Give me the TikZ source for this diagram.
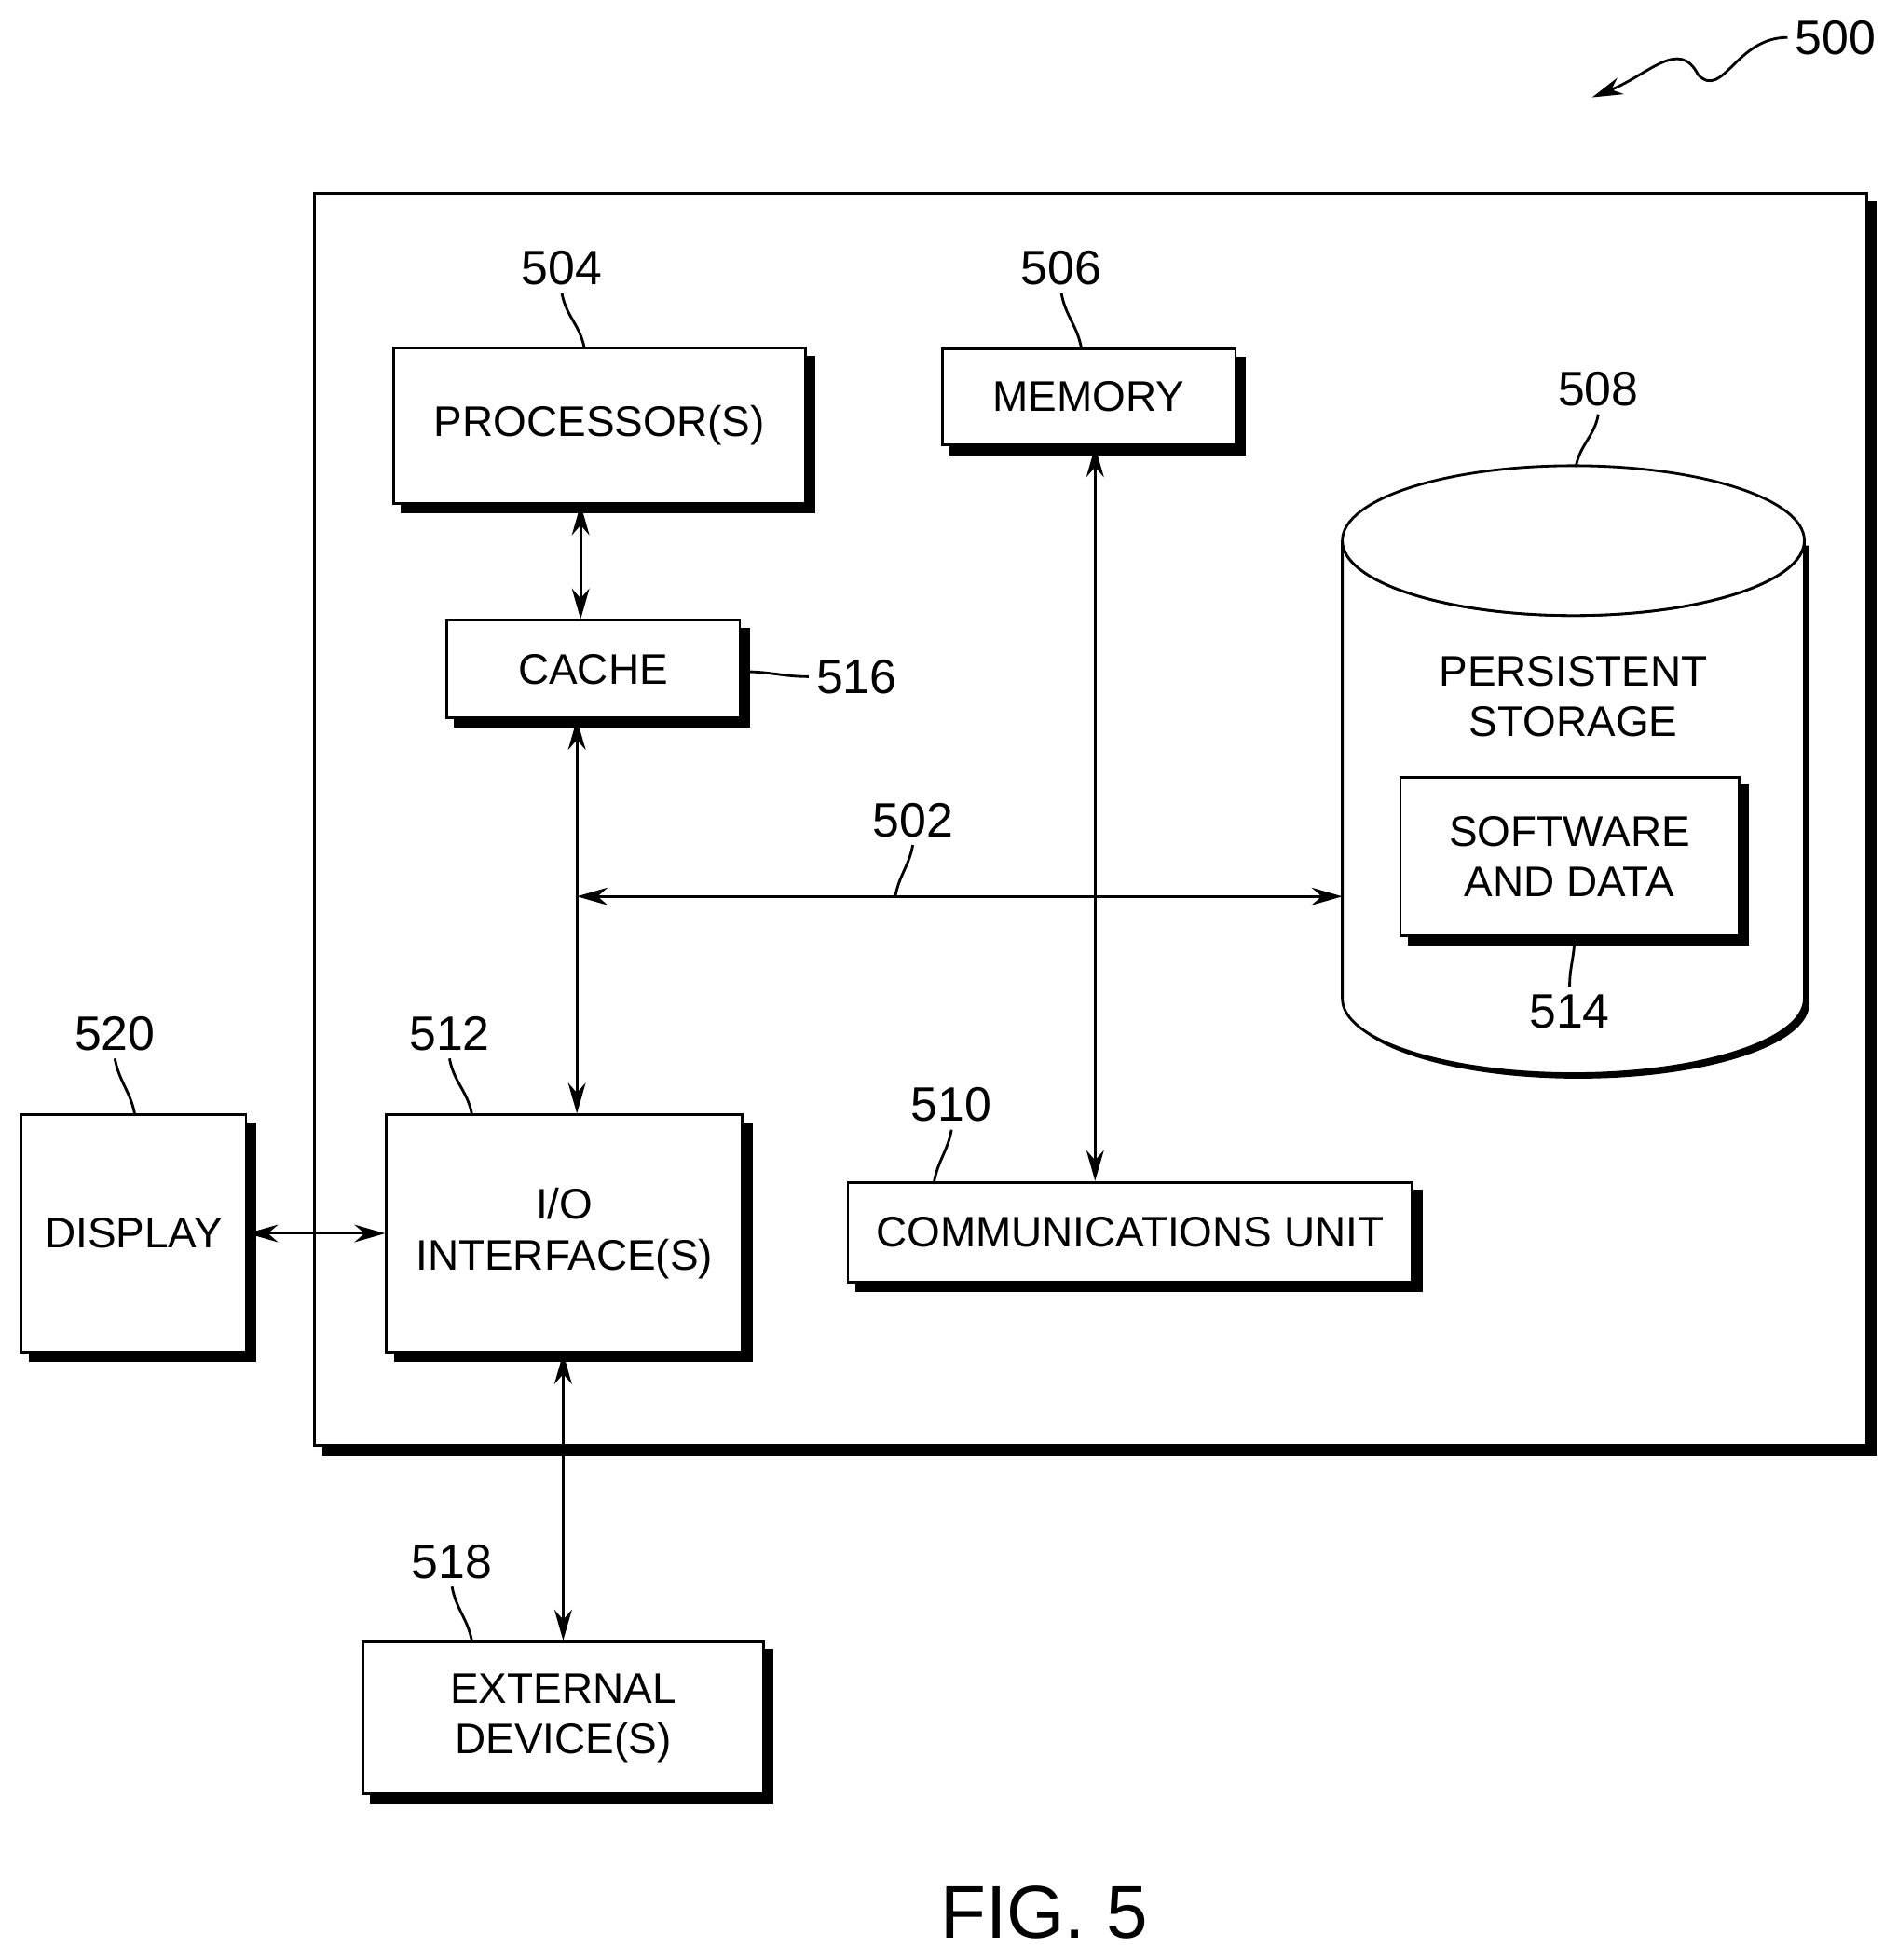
\documentclass[tikz,border=0pt]{standalone}
\usepackage{fontspec}
\setmainfont{Liberation Sans}
\usetikzlibrary{shadows,arrows.meta}
\tikzset{
  box/.style={draw=black, line width=1.2pt, fill=white, rectangle, align=center,
    copy shadow={shadow xshift=4pt, shadow yshift=-4pt, draw=black, fill=black}},
  arrow/.style={line width=1.2pt, {Stealth[length=14pt,width=8pt]}-{Stealth[length=14pt,width=8pt]}},
  leader/.style={line width=1.2pt},
  num/.style={font=\fontsize{22}{26}\selectfont}
}
\begin{document}
\begin{tikzpicture}[x=0.02cm, y=-0.02cm, font=\fontsize{19.5}{23}\selectfont]
\useasboundingbox (0,0) rectangle (1520,1570);

% outer system box
\node[box, minimum width=1243*0.02cm, minimum height=1003*0.02cm] (system) at (873.5,656.5) {};

% components
\node[box, minimum width=330*0.02cm, minimum height=124*0.02cm] (proc) at (480,341) {PROCESSOR(S)};
\node[box, minimum width=235*0.02cm, minimum height=77*0.02cm] (mem) at (872,318) {MEMORY};
\node[box, minimum width=235*0.02cm, minimum height=78*0.02cm] (cache) at (475,536) {CACHE};
\node[box, minimum width=285*0.02cm, minimum height=190*0.02cm] (io) at (452,988) {I/O\\INTERFACE(S)};
\node[box, minimum width=180*0.02cm, minimum height=190*0.02cm] (disp) at (107,988) {DISPLAY};
\node[box, minimum width=452*0.02cm, minimum height=80*0.02cm] (comm) at (905,987) {COMMUNICATIONS UNIT};
\node[box, minimum width=321*0.02cm, minimum height=122*0.02cm] (ext) at (451,1376) {EXTERNAL\\DEVICE(S)};

% persistent storage cylinder
\fill[black] (1079,437) -- (1079,804) arc[start angle=180, end angle=0, x radius=185, y radius=60] -- (1449,437) -- cycle;
\fill[white, draw=black, line width=1.2pt] (1075,433) -- (1075,800) arc[start angle=180, end angle=0, x radius=185, y radius=60] -- (1445,433) arc[start angle=0, end angle=180, x radius=185, y radius=60] -- cycle;
\draw[fill=white, line width=1.2pt] (1260,433) ellipse[x radius=185, y radius=60];
\coordinate (stor) at (1075,718);
\node[align=center] at (1260,558) {PERSISTENT\\STORAGE};
\node[box, minimum width=271*0.02cm, minimum height=127*0.02cm] (soft) at (1257,686) {SOFTWARE\\AND DATA};

% connectors
\coordinate (x465) at (465,0);
\coordinate (x462) at (462,0);
\coordinate (x877) at (877,0);
\coordinate (x451) at (451,0);
\draw[arrow] (x465 |- proc.south) -- (x465 |- cache.north);
\coordinate (bus) at (462,718);
\draw[arrow] (x462 |- cache.south) -- (x462 |- io.north);
\draw[arrow] (bus) -- (stor);
\draw[arrow] (x877 |- mem.south) -- (x877 |- comm.north);
\draw[arrow] (disp.east) -- (io.west);
\draw[arrow] (x451 |- io.south) -- (x451 |- ext.north);

% reference numerals
\node[num] (n504) at (450,215) {504};
\draw[leader] (n504.south) to[out=-80,in=100] (468,279);
\node[num] (n506) at (850,215) {506};
\draw[leader] (n506.south) to[out=-80,in=100] (866,279);
\node[num] (n508) at (1280,312) {508};
\draw[leader] (n508.south) to[out=-100,in=80] (1262,374);
\node[num] (n516) at (686,542) {516};
\draw[leader] (n516.west) to[out=180,in=0] (597,538);
\node[num] (n502) at (731,657) {502};
\draw[leader] (n502.south) to[out=-100,in=80] (717,718);
\node[num] (n514) at (1257,810) {514};
\draw[leader] (n514.north) to[out=90,in=-90] (1261,750);
\node[num] (n520) at (92,828) {520};
\draw[leader] (n520.south) to[out=-80,in=100] (108,893);
\node[num] (n512) at (360,828) {512};
\draw[leader] (n512.south) to[out=-80,in=100] (378,893);
\node[num] (n510) at (762,885) {510};
\draw[leader] (n510.south) to[out=-100,in=80] (748,947);
\node[num] (n518) at (362,1251) {518};
\draw[leader] (n518.south) to[out=-80,in=100] (378,1315);

% figure reference
\node[num] (n500) at (1470,30) {500};
\coordinate (tip500) at (1275,78);
\draw[leader, -{Stealth[length=14pt,width=8pt]}] (n500.west) .. controls (1390,30) and (1380,80) .. (1360,60) .. controls (1345,30) and (1320,60) .. (tip500);

\node[font=\fontsize{34}{38}\selectfont] (fig) at (836,1532) {FIG. 5};
\end{tikzpicture}
\end{document}
